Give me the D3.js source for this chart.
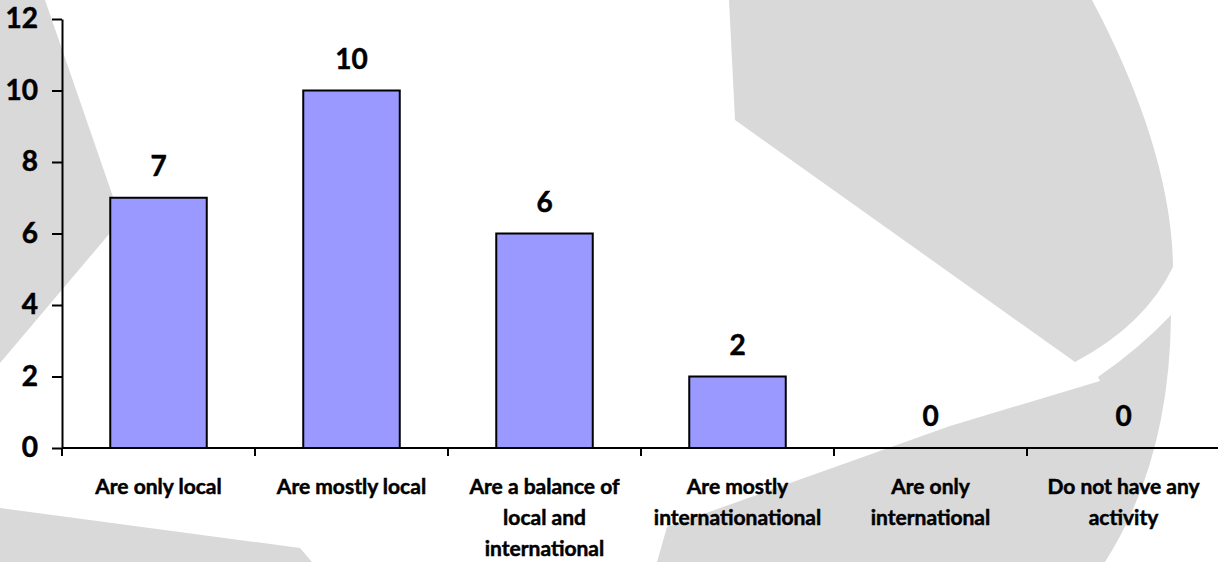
<!DOCTYPE html>
<html>
<head>
<meta charset="utf-8">
<script src="https://cdn.jsdelivr.net/npm/d3@7/dist/d3.min.js"></script>
<style>
  html, body { margin: 0; padding: 0; background: #fff; }
  svg { display: block; }
  text { font-family: Lato, "Noto Sans", sans-serif; font-weight: bold; fill: #000; stroke: #000; stroke-width: 0.5px; }
</style>
</head>
<body>
<svg id="chart" width="1218" height="562"></svg>
<script>
// ---- data ----
const categories = [
  "Are only local",
  "Are mostly local",
  "Are a balance of local and international",
  "Are mostly internationational",
  "Are only international",
  "Do not have any activity"
];
const labelLines = [
  ["Are only local"],
  ["Are mostly local"],
  ["Are a balance of", "local and", "international"],
  ["Are mostly", "internationational"],
  ["Are only", "international"],
  ["Do not have any", "activity"]
];
const values = [7, 10, 6, 2, 0, 0];
const yTicks = [0, 2, 4, 6, 8, 10, 12];

// ---- layout ----
const M = { left: 62, right: 1220, top: 19, bottom: 448 };
const svg = d3.select("#chart");

// background watermark shapes (decoration)
const bg = svg.append("g").attr("fill", "#d9d9d9");
bg.append("path").attr("d", "M0,0 L45,0 L121,220 L0,363 Z");
bg.append("path").attr("d", "M0,508 L300,548 L312,562 L0,562 Z");
bg.append("path").attr("d", "M729,0 L1092,0 C1145,100 1172,190 1173,267 Q1145,325 1075,362 L735,120 Z");
bg.append("path").attr("d", "M1171,315 Q1140,348 1098,377 L1100,381 L950,426 L667,527 L657,562 L1105,562 Q1170,460 1171,315 Z");

const x = d3.scaleBand().domain(categories).range([M.left, M.right]).paddingInner(0.5).paddingOuter(0.25);
const y = d3.scaleLinear().domain([0, 12]).range([M.bottom, M.top]);

// bars
svg.append("g").selectAll("rect").data(values).join("rect")
  .attr("x", (d, i) => x(categories[i]))
  .attr("y", d => y(d))
  .attr("width", x.bandwidth())
  .attr("height", d => y(0) - y(d))
  .attr("fill", "#9999ff")
  .attr("stroke", "#000")
  .attr("stroke-width", 2)
  .style("display", d => d > 0 ? null : "none");

// y axis
const yAxis = svg.append("g").attr("transform", `translate(${M.left},0)`)
  .call(d3.axisLeft(y).tickValues(yTicks).tickSize(10).tickSizeOuter(0).tickPadding(14).tickFormat(d3.format("d")));
yAxis.select(".domain").attr("stroke", "#000").attr("stroke-width", 2);
yAxis.selectAll(".tick line").attr("stroke", "#000").attr("stroke-width", 2);
yAxis.selectAll(".tick text").style("font-size", "28px").style("font-family", "Lato, sans-serif").style("font-weight", "bold").attr("fill", "#000");

// x axis: baseline with ticks at category boundaries
const boundaries = categories.map(c => x(c) - x.step() * x.paddingInner() / 2);
const xAxis = svg.append("g");
xAxis.append("line").attr("x1", M.left).attr("x2", M.right).attr("y1", y(0)).attr("y2", y(0))
  .attr("stroke", "#000").attr("stroke-width", 2);
xAxis.selectAll("line.tk").data(boundaries).join("line").attr("class", "tk")
  .attr("x1", d => d).attr("x2", d => d).attr("y1", y(0)).attr("y2", y(0) + 8)
  .attr("stroke", "#000").attr("stroke-width", 2);

// category labels
const lbl = svg.append("g").selectAll("text").data(labelLines).join("text")
  .attr("text-anchor", "middle")
  .attr("x", (d, i) => x(categories[i]) + x.bandwidth() / 2)
  .attr("y", 494)
  .style("font-size", "21px");
lbl.selectAll("tspan").data(d => d).join("tspan")
  .attr("x", function () { return d3.select(this.parentNode).attr("x"); })
  .attr("dy", (d, i) => i === 0 ? 0 : 31)
  .text(d => d);

// value labels
svg.append("g").selectAll("text").data(values).join("text")
  .attr("text-anchor", "middle")
  .attr("x", (d, i) => x(categories[i]) + x.bandwidth() / 2)
  .attr("y", d => y(d) - 22)
  .style("font-size", "28px")
  .text(d => d);
</script>
</body>
</html>
